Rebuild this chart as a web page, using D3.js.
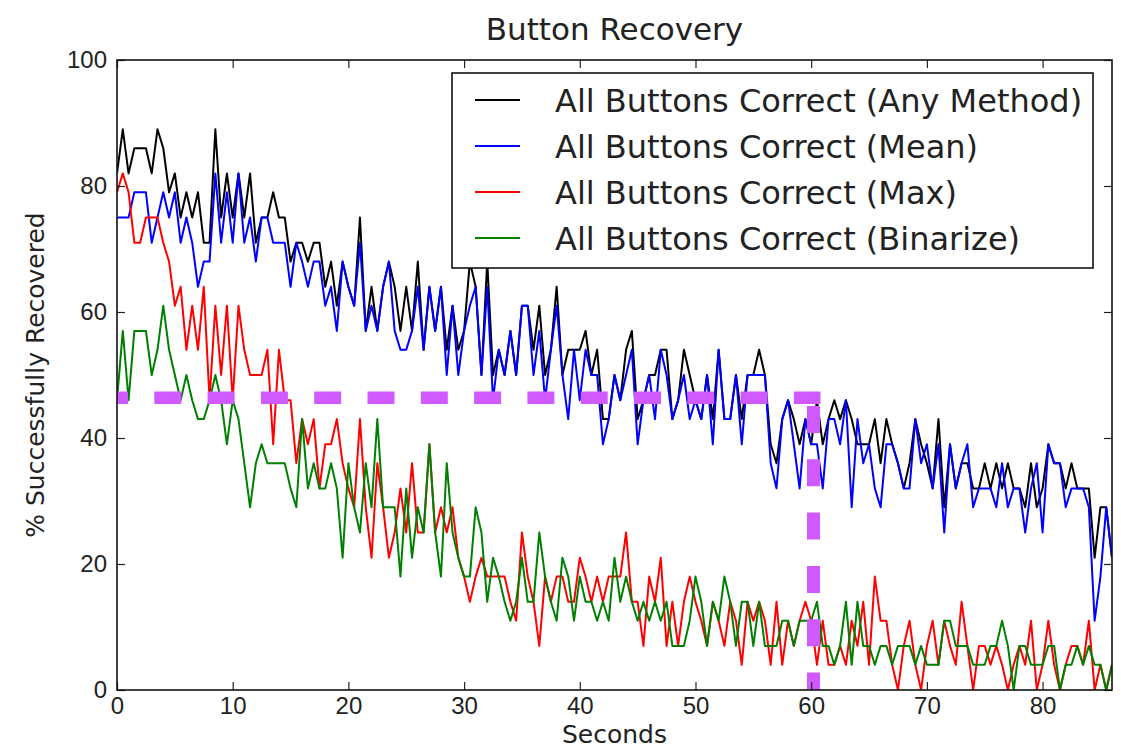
<!DOCTYPE html>
<html lang="en">
<head>
<meta charset="UTF-8">
<title>Button Recovery</title>
<script src="https://d3js.org/d3.v7.min.js"></script>
<style>
  body { margin: 0; background: #fff; }
  svg { display: block; font-family: "DejaVu Sans", "Bitstream Vera Sans", sans-serif; }
  .axis text { fill: #222; font-size: 24px; }
  .axis line { stroke: #222; stroke-width: 1.2; }
</style>
</head>
<body>
<svg id="chart" width="1121" height="751"></svg>
<script>
// sample times (s), one reading every half second
const seconds = d3.range(0, 86.5, 0.5);

// % successfully recovered
const anyMethod = [
  82,89,82,86,86,86,82,89,86,79, 82,75,79,75,79,71,71,89,75,82,
  75,82,75,82,71,75,75,79,75,75, 68,71,71,68,71,71,64,68,61,68,
  64,61,75,57,64,57,64,68,64,57, 64,57,68,54,64,57,64,54,61,54,
  57,68,64,50,68,50,54,50,57,50, 61,61,54,61,50,54,64,50,54,54,
  54,57,50,54,43,43,50,46,54,57, 43,46,50,50,54,54,43,46,54,50,
  46,43,50,43,54,43,43,50,43,50, 50,54,50,39,36,43,46,43,39,43,
  39,46,39,43,46,43,46,43,39,39, 39,43,36,43,39,36,32,36,43,39,
  36,32,43,29,39,32,36,36,32,32, 36,32,36,32,36,32,32,29,36,29,
  32,39,36,36,32,36,32,32,32,21,29,29,21
];
const meanMethod = [
  75,75,75,79,79,79,71,75,79,75, 79,71,75,71,64,68,68,82,71,79,
  71,82,71,75,68,75,75,71,71,71, 64,71,68,64,68,68,61,64,57,68,
  64,61,71,57,61,57,64,68,57,54, 54,57,64,54,64,57,64,50,61,50,
  57,61,64,50,64,46,54,50,57,50, 61,61,50,57,46,54,61,50,43,54,
  46,54,50,50,39,43,50,46,50,54, 39,46,50,43,54,50,43,46,50,43,
  46,43,50,39,54,43,43,50,39,50, 50,50,50,36,32,43,46,39,32,43,
  39,39,32,43,43,39,46,29,43,36, 39,32,29,39,39,36,32,32,43,36,
  39,32,39,25,39,32,36,39,29,32, 32,32,29,36,29,32,32,25,32,36,
  25,39,36,36,29,32,32,32,29,11,18,29,21
];
const maxMethod = [
  79,82,79,71,71,75,75,75,71,68, 61,64,54,61,54,64,46,61,50,61,
  46,61,54,50,50,50,54,39,54,46, 46,36,43,39,43,32,39,39,43,36,
  32,29,43,29,21,36,29,21,25,32, 25,36,25,25,39,25,29,25,29,21,
  18,14,18,21,18,18,18,18,14,11, 25,18,14,7,18,14,18,18,14,14,
  21,18,14,18,14,18,18,18,25,14, 14,7,18,14,21,7,14,7,14,18,
  14,11,7,14,11,7,14,11,4,14, 11,14,11,4,14,4,11,7,11,14,
  11,4,11,4,4,7,4,11,7,14, 4,18,11,11,4,0,7,11,4,0,
  7,11,4,11,7,4,14,7,0,7, 7,4,7,4,0,4,7,4,11,0,
  4,11,4,0,4,7,7,4,11,0,4,0,4
];
const binarizeMethod = [
  46,57,46,57,57,57,50,54,61,54, 50,46,50,46,43,43,46,50,46,39,
  46,43,36,29,36,39,36,36,36,36, 32,29,43,32,36,32,32,36,32,21,
  36,29,25,36,29,43,29,29,29,18, 32,21,29,25,39,25,18,36,25,21,
  18,18,29,25,14,21,18,14,11,14, 21,14,14,25,18,14,11,21,18,11,
  18,14,14,11,14,11,21,14,18,14, 11,14,11,14,11,14,7,7,7,11,
  18,14,7,14,11,18,14,7,14,14, 7,14,7,7,7,11,11,7,11,11,
  11,14,7,7,4,7,14,4,14,7, 7,4,7,7,4,7,7,7,4,7,
  4,4,4,11,11,7,7,7,4,4, 4,7,7,11,7,0,7,7,4,4,
  4,7,7,0,4,4,7,4,7,4,4,0,4
];

const seriesNames = [
  "All Buttons Correct (Any Method)",
  "All Buttons Correct (Mean)",
  "All Buttons Correct (Max)",
  "All Buttons Correct (Binarize)"
];
const seriesColors = ["#000000", "#0000ff", "#ff0000", "#008000"];
const seriesValues = [anyMethod, meanMethod, maxMethod, binarizeMethod];

const xTicks = [0, 10, 20, 30, 40, 50, 60, 70, 80];
const yTicks = [0, 20, 40, 60, 80, 100];

// magenta guide: level and time
const guideLevel = 46.4;
const guideTime = 60.2;

const margin = { top: 60, right: 9, bottom: 61, left: 117 };
const width = 1121 - margin.left - margin.right;
const height = 751 - margin.top - margin.bottom;

const svg = d3.select("#chart");
const g = svg.append("g").attr("transform", `translate(${margin.left},${margin.top})`);

const x = d3.scaleLinear().domain([0, 86]).range([0, width]);
const y = d3.scaleLinear().domain([0, 100]).range([height, 0]);

g.append("defs").append("clipPath").attr("id", "plotclip")
  .append("rect").attr("width", width).attr("height", height);

// lines
const line = d3.line().x((d, i) => x(seconds[i])).y(d => y(d));
const lines = g.append("g").attr("clip-path", "url(#plotclip)");
seriesValues.forEach((vals, k) => {
  lines.append("path")
    .datum(vals)
    .attr("fill", "none")
    .attr("stroke", seriesColors[k])
    .attr("stroke-width", 2)
    .attr("stroke-linejoin", "round")
    .attr("d", line);
});

// magenta dashed guide lines
g.append("line")
  .attr("x1", x(0)).attr("x2", x(guideTime) + 7)
  .attr("y1", y(guideLevel)).attr("y2", y(guideLevel))
  .attr("stroke", "#d05aff").attr("stroke-width", 12.5)
  .attr("stroke-dasharray", "27,26.3").attr("stroke-dashoffset", 16);
g.append("line")
  .attr("x1", x(guideTime)).attr("x2", x(guideTime))
  .attr("y1", y(guideLevel)).attr("y2", y(0))
  .attr("stroke", "#d05aff").attr("stroke-width", 13)
  .attr("stroke-dasharray", "27,26.3").attr("stroke-dashoffset", 45);

// axes with inward ticks
g.append("g").attr("class", "axis").attr("transform", `translate(0,${height})`)
  .call(d3.axisBottom(x).tickValues(xTicks).tickSizeInner(-8).tickSizeOuter(0).tickPadding(7));
g.append("g").attr("class", "axis")
  .call(d3.axisTop(x).tickValues(xTicks).tickSizeInner(-8).tickSizeOuter(0).tickFormat(""));
g.append("g").attr("class", "axis")
  .call(d3.axisLeft(y).tickValues(yTicks).tickSizeInner(-8).tickSizeOuter(0).tickPadding(10));
g.append("g").attr("class", "axis").attr("transform", `translate(${width},0)`)
  .call(d3.axisRight(y).tickValues(yTicks).tickSizeInner(-8).tickSizeOuter(0).tickFormat(""));
g.selectAll(".axis .domain").remove();

g.append("rect")
  .attr("width", width).attr("height", height)
  .attr("fill", "none").attr("stroke", "#111").attr("stroke-width", 1.6);

// legend
const legend = g.append("g").attr("transform", "translate(335,13)");
legend.append("rect")
  .attr("width", 641).attr("height", 195)
  .attr("fill", "#fff").attr("stroke", "#111").attr("stroke-width", 1.6);
seriesNames.forEach((name, k) => {
  const row = legend.append("g").attr("transform", `translate(0,${27 + k * 46})`);
  row.append("line").attr("x1", 23).attr("x2", 68)
    .attr("stroke", seriesColors[k]).attr("stroke-width", 2);
  row.append("text").attr("x", 103).attr("dy", "0.36em")
    .attr("font-size", 32).attr("fill", "#222").text(name);
});

// titles
svg.append("text")
  .attr("x", margin.left + width / 2).attr("y", 40)
  .attr("text-anchor", "middle").attr("font-size", 31).attr("fill", "#222")
  .text("Button Recovery");
svg.append("text")
  .attr("x", margin.left + width / 2).attr("y", 743)
  .attr("text-anchor", "middle").attr("font-size", 25).attr("fill", "#222")
  .text("Seconds");
svg.append("text")
  .attr("transform", `translate(44,${margin.top + height / 2}) rotate(-90)`)
  .attr("text-anchor", "middle").attr("font-size", 25).attr("fill", "#222")
  .text("% Successfully Recovered");
</script>
</body>
</html>
